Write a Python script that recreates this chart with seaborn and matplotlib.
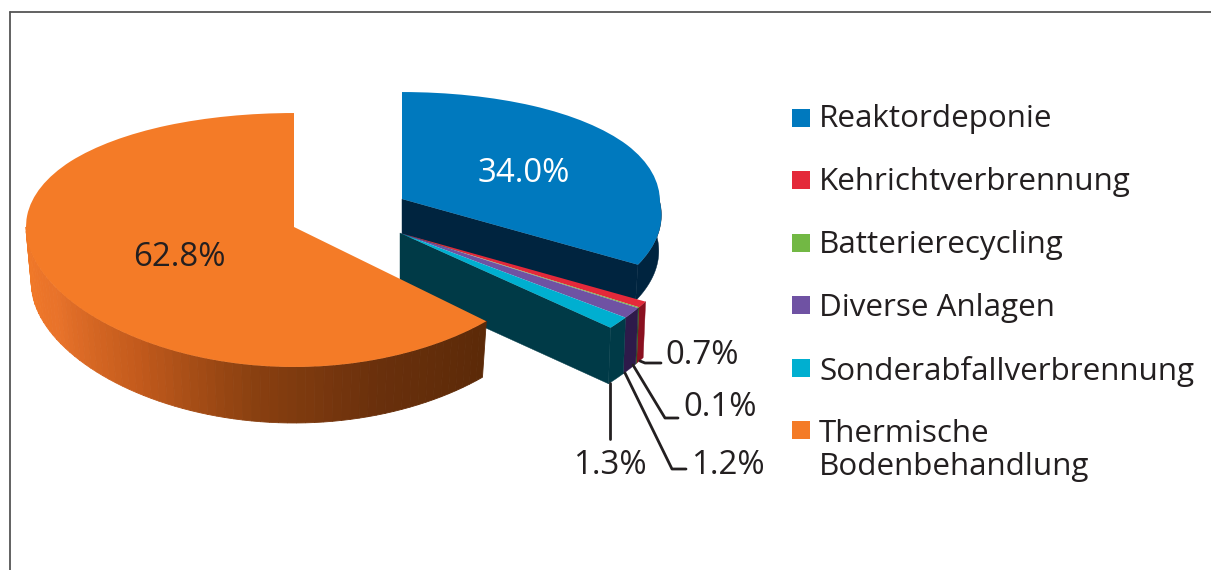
import matplotlib

matplotlib.use("Agg")
import matplotlib.pyplot as plt
import numpy as np
import seaborn as sns
from matplotlib.patches import PathPatch
from matplotlib.path import Path

CATEGORIES = [
    "Reaktordeponie",
    "Kehrichtverbrennung",
    "Batterierecycling",
    "Diverse Anlagen",
    "Sonderabfallverbrennung",
    "Thermische\nBodenbehandlung",
]
VALUES = [34.0, 0.7, 0.1, 1.2, 1.3, 62.8]
VALUE_LABELS = ["34.0%", "0.7%", "0.1%", "1.2%", "1.3%", "62.8%"]

FACE_COLORS = ["#0079be", "#e4293a", "#72b844", "#6f52a3", "#00afd0", "#f47b27"]
WALL_COLORS = ["#00243f", "#8a1020", "#2f5a1c", "#2e1a4a", "#003a47", None]
GRADIENT = ["#f47b27", "#e8722a", "#c25a1c", "#8a4010", "#6a300c", "#5c2a08"]
TEXT = "#231f20"

# each slice group sits on its own fake perspective (pixel units)
BLUE = dict(x0=402, y0=199, rx=257, shear=35, a=-98.4, c=0.093, depth=36, shrink=0.99, z=1)
SMALL = dict(x0=400, y0=233, rx=285, shear=8.7, a=-42.3, c=0.286, depth=56, shrink=0.99, z=2)
ORANGE = dict(x0=294, y0=227, rx=268, shear=0, a=-102.4, c=0.1024, depth=56, shrink=0.98, z=3)
GROUPS = [BLUE, SMALL, SMALL, SMALL, SMALL, ORANGE]


def project(pts, s):
    u, v = np.asarray(pts).T
    x = s["x0"] + s["rx"] * u - s["shear"] * np.minimum(v, 0)
    y = (s["a"] * v + s["y0"]) / (s["c"] * v + 1)
    return np.column_stack([x, y])


def lower(pts, s):
    out = np.array(pts, dtype=float)
    out[:, 0] = s["x0"] + (out[:, 0] - s["x0"]) * s["shrink"]
    out[:, 1] += s["depth"]
    return out


def rim(theta1, theta2, s):
    t = np.radians(np.linspace(theta1, theta2, 80))
    return project(np.column_stack([np.cos(t), np.sin(t)]), s)


sns.set_theme(style="white")
plt.rcParams["font.family"] = ["Open Sans", "DejaVu Sans"]

fig = plt.figure(figsize=(12.11, 5.7), dpi=100)
ax = fig.add_axes([0, 0, 1, 1])
wedges, _ = ax.pie(VALUES, colors=FACE_COLORS, startangle=90, counterclock=False)
ax.set_aspect("auto")
ax.set_xlim(0, 1211)
ax.set_ylim(570, 0)
ax.axis("off")

for i, wedge in enumerate(wedges):
    s = GROUPS[i]
    theta1, theta2 = wedge.theta1, wedge.theta2
    if theta1 > 0:
        theta1, theta2 = theta1 - 360, theta2 - 360

    # outer wall, only the part that faces the viewer
    t1, t2 = max(theta1, -180), min(theta2, 2)
    if t2 > t1:
        if WALL_COLORS[i] is not None:
            top = rim(t1, t2, s)
            ax.fill(*np.vstack([top, lower(top, s)[::-1]]).T, color=WALL_COLORS[i],
                    lw=0.3, zorder=s["z"])
        else:
            # orange wall fades from the face colour on the left to dark brown on the right
            edges = np.linspace(t1, t2, 70)
            colors = sns.blend_palette(GRADIENT, n_colors=69)
            for j in range(69):
                top = rim(edges[j], edges[j + 1], s)
                ax.fill(*np.vstack([top, lower(top, s)[::-1]]).T, color=colors[j],
                        lw=0.6, zorder=s["z"])

    # flat cut wall behind the trailing edge of the blue slice and the small group
    if i in (0, 4):
        end = rim(theta1, theta1, s)[:1]
        apex = project([[0, 0]], s)
        top = np.vstack([apex, end])
        ax.fill(*np.vstack([top, lower(top, s)[::-1]]).T, color=WALL_COLORS[i],
                lw=0.3, zorder=s["z"] + 0.1)

    path = wedge.get_path()
    ax.add_patch(PathPatch(Path(project(path.vertices, s), path.codes),
                           facecolor=FACE_COLORS[i], edgecolor="none", zorder=s["z"] + 0.2))
    wedge.remove()

# value labels
ax.text(524, 173, VALUE_LABELS[0], color="white", fontsize=23.8, ha="center", va="center", zorder=5)
ax.text(179, 257, VALUE_LABELS[5], color=TEXT, fontsize=23.8, ha="center", va="center", zorder=5)
ax.text(665, 355, VALUE_LABELS[1], color=TEXT, fontsize=23.8, ha="left", va="center", zorder=5)
ax.text(683, 408, VALUE_LABELS[2], color=TEXT, fontsize=23.8, ha="left", va="center", zorder=5)
ax.text(691, 466, VALUE_LABELS[3], color=TEXT, fontsize=23.8, ha="left", va="center", zorder=5)
ax.text(573, 465, VALUE_LABELS[4], color=TEXT, fontsize=23.8, ha="left", va="center", zorder=5)

# leader lines
for xs, ys in [
    ([640, 645, 661], [361, 363, 363]),
    ([633, 665, 678], [365, 418, 418]),
    ([625, 672, 686], [373, 469, 469]),
    ([610, 610], [383, 439]),
]:
    ax.plot(xs, ys, color=TEXT, lw=2, solid_joinstyle="round", zorder=5)

# legend
legend_y = [118, 180, 243, 305, 368, 430]
legend_text_y = [104, 167, 230, 293, 356, 419]
for y, ty, name, color in zip(legend_y, legend_text_y, CATEGORIES, FACE_COLORS):
    ax.scatter([801], [y], marker="s", s=165, color=color, linewidths=0, zorder=5)
    ax.text(819, ty, name, color=TEXT, fontsize=22.6, ha="left", va="top",
            linespacing=1.15, zorder=5)

# frame of the page
ax.plot([10, 10], [570, 12], color="#555555", lw=1.3, zorder=6)
ax.plot([10, 1211], [12, 12], color="#555555", lw=1.3, zorder=6)

fig.savefig("out.png", dpi=100)
